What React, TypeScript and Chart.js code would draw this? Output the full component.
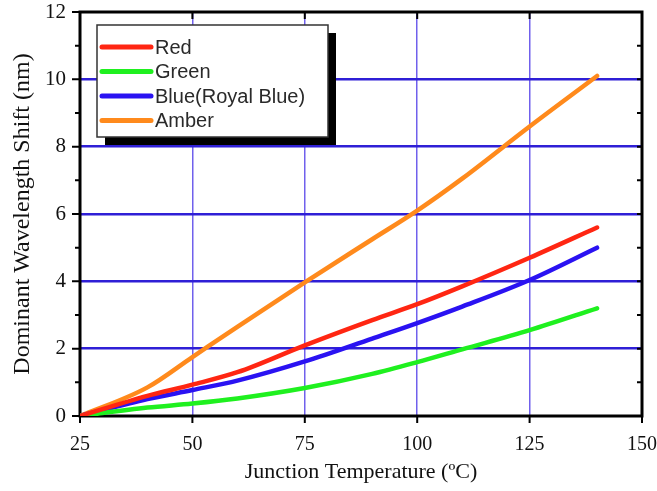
import React, { useEffect, useRef } from "react";
import { Chart, registerables } from "chart.js";

Chart.register(...registerables);

// Junction temperature (°C) sample points shared by every series
const temperatures = [25, 40, 50, 60, 75, 90, 100, 110, 125, 140];

// Dominant wavelength shift (nm) per LED colour
const redShift = [0, 0.6, 0.93, 1.3, 2.1, 2.85, 3.32, 3.85, 4.7, 5.6];
const greenShift = [0, 0.25, 0.37, 0.52, 0.83, 1.25, 1.6, 1.98, 2.55, 3.2];
const blueShift = [0, 0.5, 0.77, 1.05, 1.62, 2.3, 2.76, 3.25, 4.04, 5.0];
const amberShift = [0, 0.85, 1.75, 2.65, 3.97, 5.25, 6.1, 7.05, 8.6, 10.1];

const seriesNames = ["Red", "Green", "Blue(Royal Blue)", "Amber"];
const seriesColors = ["#ff2612", "#1ff01f", "#2a12f2", "#ff8a1c"];

const xTicks = [25, 50, 75, 100, 125, 150];
const yMajor = [0, 2, 4, 6, 8, 10, 12];

const xTitle = "Junction Temperature (ºC)";
const yTitle = "Dominant Wavelength Shift (nm)";

const toPoints = (ys: number[]) => temperatures.map((t, i) => ({ x: t, y: ys[i] }));

// Frame, tick marks and legend box drawn around the plot
const framePlugin = {
  id: "frameTicks",
  beforeDatasetsDraw(chart: any) {
    const { ctx, chartArea: a, scales } = chart;
    const xs = scales.x;
    const ys = scales.y;
    ctx.save();
    ctx.strokeStyle = "#000";
    ctx.lineWidth = 3;
    ctx.strokeRect(a.left, a.top, a.right - a.left, a.bottom - a.top);
    ctx.lineWidth = 2;
    // x ticks: outward on bottom, inward on top
    for (const v of xTicks) {
      const px = xs.getPixelForValue(v);
      ctx.beginPath();
      ctx.moveTo(px, a.bottom);
      ctx.lineTo(px, a.bottom + 7);
      ctx.moveTo(px, a.top);
      ctx.lineTo(px, a.top + 7);
      ctx.stroke();
    }
    // y ticks: major and minor, outward on left, inward on right
    for (let v = 0; v <= 12; v++) {
      const py = ys.getPixelForValue(v);
      const major = v % 2 === 0;
      ctx.beginPath();
      ctx.moveTo(a.left, py);
      ctx.lineTo(a.left - (major ? 8 : 5), py);
      ctx.moveTo(a.right, py);
      ctx.lineTo(a.right - 5, py);
      ctx.stroke();
    }
    ctx.restore();
  },
  afterDatasetsDraw(chart: any) {
    const { ctx } = chart;
    const left = 97;
    const top = 25;
    const w = 231;
    const h = 112;
    ctx.save();
    // drop shadow
    ctx.fillStyle = "#000";
    ctx.fillRect(left + 8, top + 8, w, h);
    ctx.fillStyle = "#fff";
    ctx.fillRect(left, top, w, h);
    ctx.strokeStyle = "#333";
    ctx.lineWidth = 1.5;
    ctx.strokeRect(left, top, w, h);
    ctx.font = "20px 'Liberation Sans', Arial, sans-serif";
    ctx.textBaseline = "middle";
    ctx.textAlign = "left";
    chart.data.datasets.forEach((ds: any, i: number) => {
      const y = 47 + i * 24.5;
      ctx.strokeStyle = ds.borderColor;
      ctx.lineWidth = 5;
      ctx.lineCap = "round";
      ctx.beginPath();
      ctx.moveTo(102, y);
      ctx.lineTo(151, y);
      ctx.stroke();
      ctx.fillStyle = "#2a2a2a";
      ctx.fillText(ds.label, 155, y + 1);
    });
    ctx.restore();
  },
};

export default function App() {
  const canvasRef = useRef<HTMLCanvasElement | null>(null);

  useEffect(() => {
    document.body.style.margin = "0";
    const canvas = canvasRef.current;
    if (!canvas) return;
    const serif = "'Liberation Serif', 'Times New Roman', serif";
    const series = [redShift, greenShift, blueShift, amberShift];
    const chart = new Chart(canvas, {
      type: "line",
      data: {
        datasets: series.map((ys, i) => ({
          label: seriesNames[i],
          data: toPoints(ys),
          borderColor: seriesColors[i],
          backgroundColor: seriesColors[i],
          borderWidth: 4.5,
          pointRadius: 0,
          cubicInterpolationMode: "monotone" as const,
          borderCapStyle: "round" as const,
          fill: false,
        })),
      },
      options: {
        animation: false,
        responsive: false,
        events: [],
        layout: { padding: { top: 12, right: 15, left: 0, bottom: 0 } },
        plugins: { legend: { display: false }, tooltip: { enabled: false } },
        scales: {
          x: {
            type: "linear",
            min: 25,
            max: 150,
            afterBuildTicks: (s: any) => {
              s.ticks = xTicks.map((v) => ({ value: v }));
            },
            afterFit: (s: any) => {
              s.height = 75;
              s.paddingRight = 0;
              s.paddingLeft = 0;
            },
            ticks: {
              color: "#111",
              padding: 17,
              font: { family: serif, size: 20 },
              maxRotation: 0,
            },
            grid: {
              drawTicks: false,
              lineWidth: 1.5,
              color: (c: any) =>
                c.tick && c.tick.value > 25 && c.tick.value < 150 ? "#7060ec" : "rgba(0,0,0,0)",
            },
            border: { display: false },
            title: {
              display: true,
              text: xTitle,
              color: "#111",
              font: { family: serif, size: 22 },
              padding: { top: 0, bottom: 6 },
            },
          },
          y: {
            type: "linear",
            min: 0,
            max: 12,
            afterBuildTicks: (s: any) => {
              s.ticks = yMajor.map((v) => ({ value: v }));
            },
            afterFit: (s: any) => {
              s.width = 80;
              s.paddingTop = 0;
              s.paddingBottom = 0;
            },
            ticks: {
              color: "#111",
              padding: 14,
              font: { family: serif, size: 21 },
            },
            grid: {
              drawTicks: false,
              lineWidth: 2.5,
              color: (c: any) =>
                c.tick && c.tick.value > 0 && c.tick.value < 12 ? "#2f1fd6" : "rgba(0,0,0,0)",
            },
            border: { display: false },
            title: {
              display: true,
              text: yTitle,
              color: "#111",
              font: { family: serif, size: 24 },
              padding: { top: 8, bottom: 0 },
            },
          },
        },
      },
      plugins: [framePlugin],
    });
    return () => chart.destroy();
  }, []);

  return (
    <div style={{ position: "absolute", left: 0, top: 0, width: 657, height: 491, background: "#fff" }}>
      <canvas ref={canvasRef} width={657} height={491} style={{ width: 657, height: 491 }} />
    </div>
  );
}
